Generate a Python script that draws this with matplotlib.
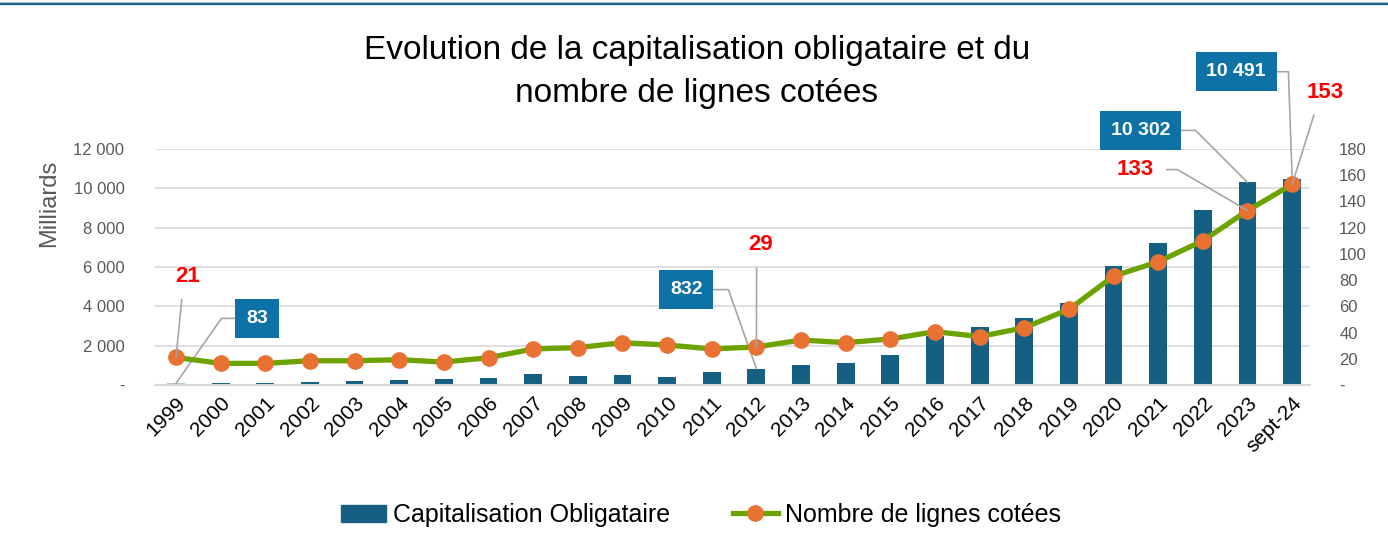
import matplotlib
matplotlib.use("Agg")
import matplotlib.pyplot as plt
from matplotlib.lines import Line2D
from matplotlib.patches import Patch
import numpy as np

plt.rcParams['font.family'] = ['Liberation Sans', 'DejaVu Sans']

years = ['1999', '2000', '2001', '2002', '2003', '2004', '2005', '2006', '2007',
         '2008', '2009', '2010', '2011', '2012', '2013', '2014', '2015', '2016',
         '2017', '2018', '2019', '2020', '2021', '2022', '2023', 'sept-24']
capi = [83, 95, 100, 140, 200, 250, 290, 370, 560, 480, 500, 420, 650, 832,
        1040, 1100, 1530, 2500, 2940, 3390, 4180, 6030, 7210, 8910, 10302, 10491]
lignes = [21, 16.5, 16.5, 18.5, 18.5, 19.3, 17.5, 20.8, 27.5, 28.5, 32.3, 30.5,
          27.5, 29, 34.3, 32.3, 35.1, 40.7, 36.9, 43.7, 57.7, 83, 94, 110, 133, 153]
title_lines = ['Evolution de la capitalisation obligataire et du', 'nombre de lignes cotées']

bar_col = '#156082'
box_col = '#0e72a6'
green = '#6ca300'
orange = '#e97132'
grey = '#595959'
lead = '#a6a6a6'


def fmt(v):
    return '{:,}'.format(int(v)).replace(',', ' ')


fig = plt.figure(figsize=(13.88, 5.55), dpi=100)
ax = fig.add_axes([155/1388, 1-385/555, 1155/1388, 236/555])
ax2 = ax.twinx()

x = np.arange(len(years))
colors = [bar_col] * len(years)
colors[0] = '#a9c6d6'
ax.bar(x, capi, width=0.4, color=colors, zorder=2)
ax2.plot(x, lignes, color=green, lw=3.8, marker='o', ms=11, mfc=orange, mec=orange,
         zorder=3)

ax.set_xlim(-0.47, 25.4)
ax2.set_xlim(-0.47, 25.4)
ax.set_ylim(0, 12000)
ax2.set_ylim(0, 180)

ax.set_yticks(range(0, 12001, 2000))
ax.set_yticklabels(['-'] + [fmt(v) for v in range(2000, 12001, 2000)])
ax2.set_yticks(range(0, 181, 20))
ax2.set_yticklabels(['-'] + [str(v) for v in range(20, 181, 20)])
ax.yaxis.grid(True, color='#d9d9d9', lw=1.2, zorder=0)
ax.set_axisbelow(True)

ax.set_xticks(x)
ax.set_xticklabels(years, rotation=45, ha='right', va='top', rotation_mode='anchor',
                   fontsize=15)
ax.tick_params(axis='x', length=0, pad=6)
ax.tick_params(axis='y', length=0, labelsize=12, labelcolor=grey, pad=22)
ax2.tick_params(axis='y', length=0, labelsize=12, labelcolor=grey, pad=21)
for a in (ax, ax2):
    for s in a.spines.values():
        s.set_visible(False)
ax.spines['bottom'].set_visible(True)
ax.spines['bottom'].set_color('#d9d9d9')
ax.spines['bottom'].set_linewidth(1.5)
ax.set_ylabel('Milliards', fontsize=17, color=grey)
ax.yaxis.set_label_coords(-0.082, 0.77)

fig.text(0.502, 1-50/555, title_lines[0], ha='center', va='center', fontsize=24)
fig.text(0.502, 1-93/555, title_lines[1], ha='center', va='center', fontsize=24)

# boxed labels on bars
boxed = [(0, 81, 65, 55), (13, -70, 79, 109.5), (24, -107, 52, 135), (25, -56, 107, 92)]
for i, dx, dy, angB in boxed:
    side = 0 if dx > 0 else 1
    ax.annotate(fmt(capi[i]), xy=(i, capi[i]), xytext=(dx, dy), textcoords='offset pixels',
                ha='center', va='center', fontsize=14, fontweight='bold', color='white',
                bbox=dict(boxstyle='square,pad=0.55', fc=box_col, ec='none'),
                arrowprops=dict(arrowstyle='-', color=lead, lw=1.2, shrinkA=0, shrinkB=0,
                                relpos=(side, 0.5),
                                connectionstyle='angle,angleA=0,angleB=%s,rad=0' % angB),
                zorder=6)

# red labels on points
reds = [(0, 12, 81, (0.3, 0), 'arc3'),
        (13, 4, 102, (0.35, 0), 'arc3'),
        (24, -112, 41, (1.0, 0.5), 'angle,angleA=0,angleB=149.6,rad=0'),
        (25, 33, 92, (0.3, 0), 'arc3')]
for i, dx, dy, rp, cs in reds:
    ax2.annotate(str(lignes[i]), xy=(i, lignes[i]), xytext=(dx, dy), textcoords='offset pixels',
                 ha='center', va='center', fontsize=16, fontweight='bold', color='#ff0000',
                 arrowprops=dict(arrowstyle='-', color=lead, lw=1.2, shrinkA=7, shrinkB=0,
                                 relpos=rp, connectionstyle=cs),
                 zorder=6)

handles = [Patch(color=bar_col),
           Line2D([], [], color=green, lw=3.8, marker='o', ms=11, mfc=orange, mec=orange)]
fig.legend(handles, ['Capitalisation Obligataire', 'Nombre de lignes cotées'],
           loc='center', bbox_to_anchor=(0.505, 1-515/555), ncol=2,
           frameon=False, fontsize=18, handlelength=1.8, columnspacing=2.5, handletextpad=0.3)

fig.add_artist(Line2D([0, 1], [1-4/555, 1-4/555], color=bar_col, lw=1.6))
fig.add_artist(Line2D([0, 1], [1-2/555, 1-2/555], color='#a9c6d6', lw=0.8))

fig.savefig('out.png', dpi=100)
